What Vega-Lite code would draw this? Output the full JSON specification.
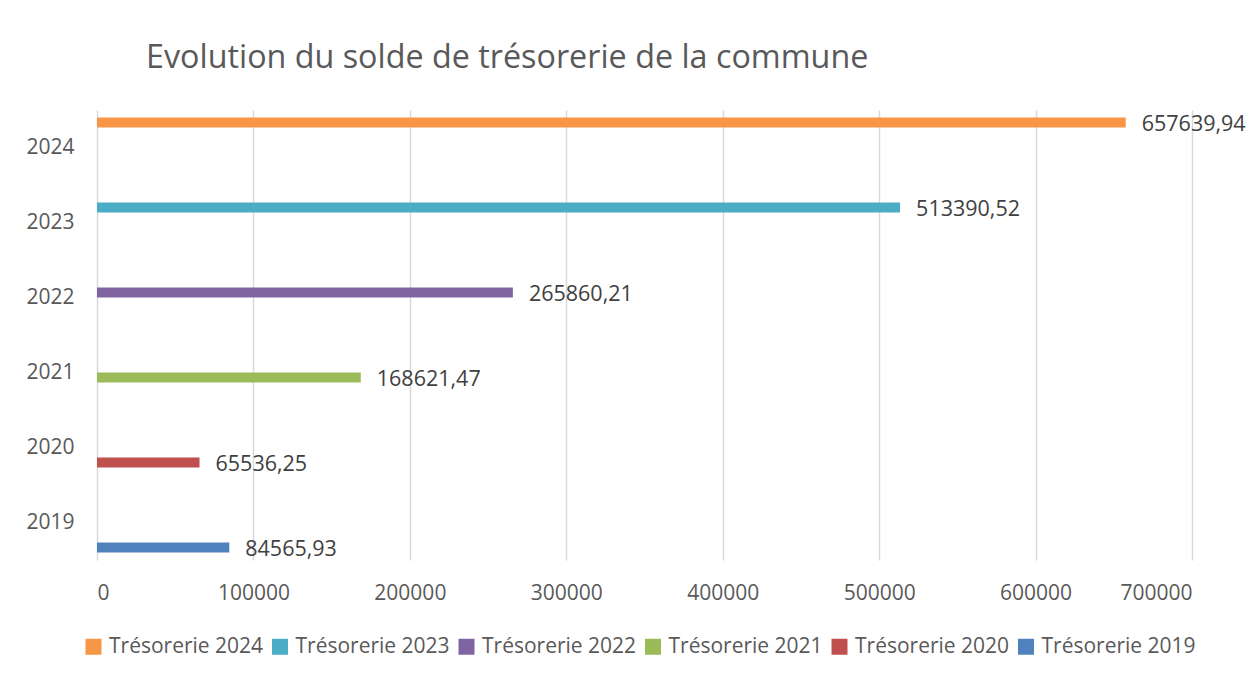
{
  "$schema": "https://vega.github.io/schema/vega-lite/v6.json",
  "width": 1095,
  "height": 450,
  "autosize": {"type": "none"},
  "padding": {"left": 97, "top": 110, "right": 57, "bottom": 117},
  "background": "white",
  "config": {"view": {"stroke": null}, "font": "Open Sans"},
  "title": {
    "text": "Evolution du solde de trésorerie de la commune",
    "anchor": "start",
    "frame": "group",
    "dx": 49,
    "offset": 10,
    "baseline": "alphabetic",
    "fontSize": 32.3,
    "fontWeight": "normal",
    "color": "#595959",
    "font": "Open Sans"
  },
  "data": {
    "values": [
      {"annee": "2019", "serie": "Trésorerie 2019", "solde": 84565.93, "label": "84565,93"},
      {"annee": "2020", "serie": "Trésorerie 2020", "solde": 65536.25, "label": "65536,25"},
      {"annee": "2021", "serie": "Trésorerie 2021", "solde": 168621.47, "label": "168621,47"},
      {"annee": "2022", "serie": "Trésorerie 2022", "solde": 265860.21, "label": "265860,21"},
      {"annee": "2023", "serie": "Trésorerie 2023", "solde": 513390.52, "label": "513390,52"},
      {"annee": "2024", "serie": "Trésorerie 2024", "solde": 657639.94, "label": "657639,94"}
    ]
  },
  "encoding": {
    "y": {
      "field": "annee",
      "type": "nominal",
      "sort": "descending",
      "scale": {"paddingInner": 0, "paddingOuter": 0},
      "axis": {
        "title": null,
        "domain": false,
        "ticks": false,
        "tickSize": 0,
        "labelFontSize": 21,
        "labelColor": "#595959",
        "labelPadding": 23,
        "labelFont": "Open Sans"
      }
    },
    "yOffset": {
      "field": "serie",
      "type": "nominal",
      "scale": {
        "domain": ["Trésorerie 2024", "Trésorerie 2023", "Trésorerie 2022", "Trésorerie 2021", "Trésorerie 2020", "Trésorerie 2019"],
        "paddingInner": 0,
        "paddingOuter": 0.75
      }
    },
    "x": {
      "field": "solde",
      "type": "quantitative",
      "scale": {"domain": [0, 700000], "nice": false},
      "axis": {
        "title": null,
        "values": [0, 100000, 200000, 300000, 400000, 500000, 600000, 700000],
        "format": "d",
        "domain": false,
        "ticks": false,
        "tickSize": 0,
        "grid": true,
        "gridColor": "#d9d9d9",
        "gridWidth": 1.5,
        "labelFontSize": 21,
        "labelColor": "#595959",
        "labelPadding": 22,
        "labelFont": "Open Sans"
      }
    }
  },
  "layer": [
    {
      "mark": {"type": "bar"},
      "encoding": {
        "color": {
          "field": "serie",
          "type": "nominal",
          "scale": {
            "domain": ["Trésorerie 2024", "Trésorerie 2023", "Trésorerie 2022", "Trésorerie 2021", "Trésorerie 2020", "Trésorerie 2019"],
            "range": ["#F79646", "#4BACC6", "#8064A2", "#9BBB59", "#C0504D", "#4F81BD"]
          },
          "legend": {
            "orient": "none",
            "legendX": -14,
            "legendY": 526,
            "direction": "horizontal",
            "columns": 6,
            "title": null,
            "symbolType": "square",
            "symbolSize": 256,
            "symbolStrokeWidth": 0,
            "symbolOpacity": 1,
            "labelFontSize": 21,
            "labelColor": "#595959",
            "labelFont": "Open Sans",
            "labelOffset": 5,
            "labelLimit": 300,
            "columnPadding": 5.5
          }
        }
      }
    },
    {
      "mark": {"type": "text", "align": "left", "baseline": "middle", "dx": 16, "dy": 2, "fontSize": 21.5, "color": "#404040", "font": "Open Sans"},
      "encoding": {"text": {"field": "label"}}
    }
  ]
}
